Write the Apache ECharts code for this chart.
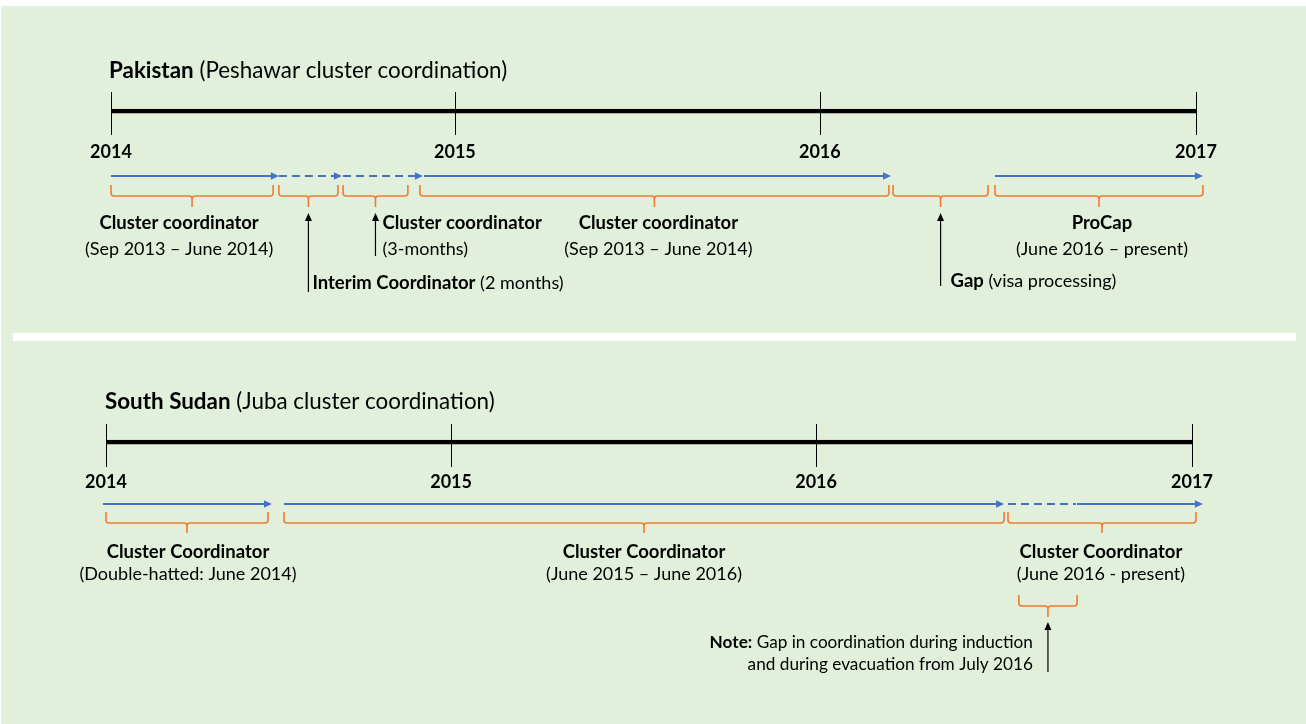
<!DOCTYPE html>
<html><head><meta charset="utf-8">
<script src="https://cdn.jsdelivr.net/npm/echarts@6/dist/echarts.min.js"></script>
<style>html,body{margin:0;padding:0;background:#fff}#c{width:1306px;height:724px}</style>
</head><body><div id="c"></div>
<script>
// ---------------- DATA (positions along the drawn timeline, in months from Jan 2014) ----------------
const yearLabels = ['2014', '2015', '2016', '2017'];
const panelNames = ['Pakistan', 'South Sudan'];
const panelSubtitles = ['(Peshawar cluster coordination)', '(Juba cluster coordination)'];
const timelineStart = 0;
const timelineEnd = 36;

// Pakistan
const pkYearPos = [0, 11.41, 23.52, 36];
const pkArrowStart = [0, 5.57, 7.70, 10.39, 29.33];
const pkArrowEnd   = [5.57, 7.66, 10.35, 25.88, 36.23];
const pkArrowKind  = ['solid', 'dashed', 'dashed', 'solid', 'solid'];
const pkBraceStart = [0, 5.57, 7.70, 10.25, 25.95, 29.33];
const pkBraceEnd   = [5.38, 7.53, 9.85, 25.81, 29.10, 36.23];
const pkRoles   = ['Cluster coordinator', 'Interim Coordinator', 'Cluster coordinator', 'Cluster coordinator', 'Gap', 'ProCap'];
const pkPeriods = ['(Sep 2013 – June 2014)', '(2 months)', '(3-months)', '(Sep 2013 – June 2014)', '(visa processing)', '(June 2016 – present)'];

// South Sudan
const ssYearPos = [0, 11.44, 23.54, 36];
const ssArrowStart = [-0.10, 5.90, 29.90, 32.19];
const ssArrowEnd   = [5.50, 29.77, 32.15, 36.36];
const ssArrowKind  = ['solid', 'solid', 'dashedOpen', 'solid'];
const ssBraceStart = [0, 5.90, 29.90];
const ssBraceEnd   = [5.37, 29.77, 36.13];
const ssRoles   = ['Cluster Coordinator', 'Cluster Coordinator', 'Cluster Coordinator'];
const ssPeriods = ['(Double-hatted: June 2014)', '(June 2015 – June 2016)', '(June 2016 - present)'];
const ssNoteStart = [30.26];
const ssNoteEnd   = [32.19];
const ssNoteLead  = 'Note:';
const ssNoteText  = ['Gap in coordination during induction', 'and during evacuation from July 2016'];

// ---------------- LAYOUT / STYLE ----------------
const FONT = 'Lato';
const BLUE = '#4472c4', ORANGE = '#ed7d31', INK = '#000';
const LBL = 18, LBLB = 18.5, YEAR = 18, TITLE = 22.4, NOTE = 17.2;
const P = [
  {left: 111, width: 1085, base: 111, titleX: 109, titleY: 71, tickUp: 19, tickDown: 24, yearY: 41,
   arrowY: 65, bTop: 74, bH: 85, bTip: 96, l1: 112, l2: 138, callTip: 102},
  {left: 106, width: 1086, base: 442, titleX: 105, titleY: 402, tickUp: 18, tickDown: 25, yearY: 40,
   arrowY: 62, bTop: 70, bH: 81, bTip: 91, l1: 110, l2: 132, callTip: 102}
];
const pkLabelLayout = [
  {mode: 'center', dx: -13},
  {mode: 'inline', bottom: 181, tx: 4, ty: 172},
  {mode: 'stack', bottom: 145, tx: 7},
  {mode: 'center', dx: 4},
  {mode: 'inline', bottom: 175, tx: 10, ty: 170},
  {mode: 'center', dx: 3}
];
const ssLabelLayout = [{mode: 'center', dx: 1}, {mode: 'center', dx: 0}, {mode: 'center', dx: -1}];
const noteLayout = {bTop: 153, bH: 164, bTip: 175, callTip: 180, bottom: 230, tx: -15, y1: 200, y2: 222};

function txt(x, y, text, opt) {
  return {type: 'text', x: x, y: y, style: Object.assign({
    text: text, fill: INK, fontFamily: FONT, fontSize: LBL, fontWeight: 'normal',
    align: 'center', verticalAlign: 'middle'}, opt || {})};
}
function bracePath(x1, x2, top, h, tip) {
  const r = 3, m = (x1 + x2) / 2;
  return 'M' + x1 + ',' + top + ' L' + x1 + ',' + (h - r) + ' Q' + x1 + ',' + h + ' ' + (x1 + r) + ',' + h +
    ' L' + (m - r) + ',' + h + ' Q' + m + ',' + h + ' ' + m + ',' + (h + r) + ' L' + m + ',' + tip +
    ' M' + m + ',' + (h + r) + ' Q' + m + ',' + h + ' ' + (m + r) + ',' + h +
    ' L' + (x2 - r) + ',' + h + ' Q' + x2 + ',' + h + ' ' + x2 + ',' + (h - r) + ' L' + x2 + ',' + top;
}
function upArrow(x, tipY, bottomY) {
  return [
    {type: 'line', shape: {x1: x, y1: tipY + 6, x2: x, y2: bottomY}, style: {stroke: INK, lineWidth: 1.2}},
    {type: 'polygon', shape: {points: [[x - 3.5, tipY + 8], [x, tipY], [x + 3.5, tipY + 8]]}, style: {fill: INK}}
  ];
}

function yearsRender(p) {
  return function (params, api) {
    const c = api.coord([api.value(0), 0]);
    const x = Math.round(c[0]) + 0.5, y0 = c[1];
    return {type: 'group', children: [
      {type: 'line', shape: {x1: x, y1: y0 - p.tickUp, x2: x, y2: y0 + p.tickDown}, style: {stroke: INK, lineWidth: 1}},
      txt(c[0], y0 + p.yearY, yearLabels[params.dataIndex], {fontWeight: 'bold', fontSize: YEAR})
    ]};
  };
}
function arrowsRender(p, kinds) {
  return function (params, api) {
    const a = api.coord([api.value(0), 0]), b = api.coord([api.value(1), 0]);
    const y = a[1] + p.arrowY;
    const kind = kinds[params.dataIndex];
    const head = kind !== 'dashedOpen';
    const dashed = kind !== 'solid';
    const ch = [{type: 'line', shape: {x1: a[0], y1: y, x2: head ? b[0] - 6 : b[0], y2: y},
      style: {stroke: BLUE, lineWidth: 2, lineDash: dashed ? [8, 5] : null}}];
    if (head) ch.push({type: 'polygon', shape: {points: [[b[0] - 8, y - 3.8], [b[0], y], [b[0] - 8, y + 3.8]]}, style: {fill: BLUE}});
    return {type: 'group', children: ch};
  };
}
function bracesRender(p, roles, periods, layout) {
  return function (params, api) {
    const i = params.dataIndex;
    const a = api.coord([api.value(0), 0]), b = api.coord([api.value(1), 0]);
    const y0 = a[1], m = (a[0] + b[0]) / 2, lay = layout[i];
    let ch = [{type: 'path', shape: {pathData: bracePath(a[0], b[0], y0 + p.bTop, y0 + p.bH, y0 + p.bTip)},
      style: {stroke: ORANGE, lineWidth: 1.6, fill: null}}];
    if (lay.mode === 'center') {
      ch.push(txt(m + lay.dx, y0 + p.l1, roles[i], {fontWeight: 'bold', fontSize: LBLB}));
      ch.push(txt(m + lay.dx, y0 + p.l2, periods[i]));
    } else if (lay.mode === 'stack') {
      ch = ch.concat(upArrow(m, y0 + p.callTip, y0 + lay.bottom));
      ch.push(txt(m + lay.tx, y0 + p.l1, roles[i], {fontWeight: 'bold', fontSize: LBLB, align: 'left'}));
      ch.push(txt(m + lay.tx, y0 + p.l2, periods[i], {align: 'left'}));
    } else {
      ch = ch.concat(upArrow(m, y0 + p.callTip, y0 + lay.bottom));
      ch.push(txt(m + lay.tx, y0 + lay.ty, '{b|' + roles[i] + '} ' + periods[i], {align: 'left',
        rich: {b: {fontWeight: 'bold', fontFamily: FONT, fontSize: LBLB, fill: INK}}}));
    }
    return {type: 'group', children: ch};
  };
}
function noteRender(p) {
  return function (params, api) {
    const a = api.coord([api.value(0), 0]), b = api.coord([api.value(1), 0]);
    const y0 = a[1], m = (a[0] + b[0]) / 2, n = noteLayout;
    let ch = [{type: 'path', shape: {pathData: bracePath(a[0], b[0], y0 + n.bTop, y0 + n.bH, y0 + n.bTip)},
      style: {stroke: ORANGE, lineWidth: 1.6, fill: null}}];
    ch = ch.concat(upArrow(m, y0 + n.callTip, y0 + n.bottom));
    ch.push(txt(m + n.tx, y0 + n.y1, '{b|' + ssNoteLead + '} ' + ssNoteText[0], {align: 'right', fontSize: NOTE,
      rich: {b: {fontWeight: 'bold', fontFamily: FONT, fontSize: NOTE, fill: INK}}}));
    ch.push(txt(m + n.tx, y0 + n.y2, ssNoteText[1], {align: 'right', fontSize: NOTE}));
    return {type: 'group', children: ch};
  };
}

const pairs = (s, e) => s.map((v, i) => [v, e[i]]);
const chart = echarts.init(document.getElementById('c'), null, {renderer: 'canvas'});
const grids = P.map(p => ({left: p.left, width: p.width, top: p.base, height: 100}));
const xAxes = P.map((p, i) => ({gridIndex: i, type: 'value', min: timelineStart, max: timelineEnd, show: false}));
const yAxes = P.map((p, i) => ({gridIndex: i, type: 'value', min: 0, max: 100, inverse: true, show: false}));

const panels = [
  {yearPos: pkYearPos, arrows: pairs(pkArrowStart, pkArrowEnd), kinds: pkArrowKind,
   braces: pairs(pkBraceStart, pkBraceEnd), roles: pkRoles, periods: pkPeriods, layout: pkLabelLayout},
  {yearPos: ssYearPos, arrows: pairs(ssArrowStart, ssArrowEnd), kinds: ssArrowKind,
   braces: pairs(ssBraceStart, ssBraceEnd), roles: ssRoles, periods: ssPeriods, layout: ssLabelLayout}
];
const series = [];
panels.forEach((d, i) => {
  const p = P[i];
  series.push({type: 'line', xAxisIndex: i, yAxisIndex: i, data: [[timelineStart, 0], [timelineEnd, 0]],
    symbol: 'none', silent: true, lineStyle: {color: INK, width: 4.5}, z: 3});
  series.push({type: 'custom', xAxisIndex: i, yAxisIndex: i, data: d.yearPos.map(v => [v]), encode: {x: 0},
    renderItem: yearsRender(p), silent: true, z: 4});
  series.push({type: 'custom', xAxisIndex: i, yAxisIndex: i, data: d.arrows, encode: {x: [0, 1]},
    renderItem: arrowsRender(p, d.kinds), silent: true, z: 4});
  series.push({type: 'custom', xAxisIndex: i, yAxisIndex: i, data: d.braces, encode: {x: [0, 1]},
    renderItem: bracesRender(p, d.roles, d.periods, d.layout), silent: true, z: 4});
});
series.push({type: 'custom', xAxisIndex: 1, yAxisIndex: 1, data: pairs(ssNoteStart, ssNoteEnd), encode: {x: [0, 1]},
  renderItem: noteRender(P[1]), silent: true, z: 4});

const titleRich = {b: {fontWeight: 'bold', fontFamily: FONT, fontSize: TITLE, fill: INK},
                   r: {fontWeight: 'normal', fontFamily: FONT, fontSize: TITLE, fill: INK}};
chart.setOption({
  backgroundColor: '#ffffff',
  animation: false,
  grid: grids, xAxis: xAxes, yAxis: yAxes,
  graphic: [
    {type: 'rect', z: -10, silent: true, shape: {x: 1, y: 6, width: 1305, height: 718}, style: {fill: '#e2efda'}},
    {type: 'rect', z: -9, silent: true, shape: {x: 13, y: 333, width: 1283, height: 8}, style: {fill: '#ffffff'}}
  ].concat(P.map((p, i) => ({type: 'text', z: 5, silent: true, x: p.titleX, y: p.titleY,
    style: {text: '{b|' + panelNames[i] + '}{r| ' + panelSubtitles[i] + '}', rich: titleRich,
            fontFamily: FONT, fontSize: TITLE, fill: INK, align: 'left', verticalAlign: 'middle'}}))),
  series: series
});
</script></body></html>
